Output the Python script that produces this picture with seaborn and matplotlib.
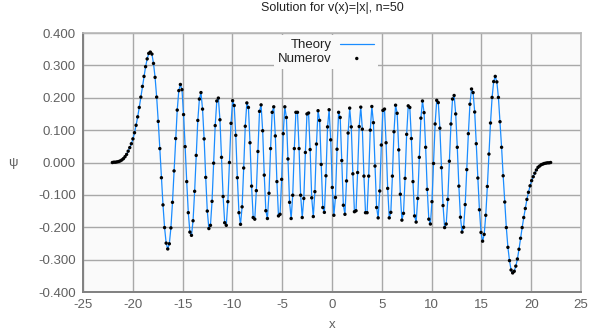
import numpy as np
import pandas as pd
import matplotlib
matplotlib.use("Agg")
import matplotlib.pyplot as plt
import seaborn as sns
from matplotlib.ticker import FormatStrFormatter

# ---- data ----
title = "Solution for v(x)=|x|, n=50"
x_first, x_last, n_points = -22.05, 21.95, 278   # uniform Numerov grid

psi = [
    0.000, 0.001, 0.001, 0.002, 0.003, 0.005, 0.008, 0.012, 0.018, 0.025,
    0.035, 0.046, 0.058, 0.073, 0.092, 0.115, 0.141, 0.170, 0.202, 0.235,
    0.266, 0.296, 0.320, 0.337, 0.341, 0.335, 0.306, 0.263, 0.202, 0.127,
    0.043, -0.047, -0.131, -0.201, -0.249, -0.267, -0.251, -0.202, -0.123, -0.026,
    0.074, 0.162, 0.222, 0.241, 0.225, 0.148, 0.049, -0.059, -0.155, -0.215,
    -0.225, -0.180, -0.089, 0.022, 0.130, 0.196, 0.216, 0.165, 0.073, -0.046,
    -0.150, -0.204, -0.194, -0.120, -0.002, 0.114, 0.190, 0.199, 0.132, 0.016,
    -0.105, -0.186, -0.194, -0.121, 0.000, 0.121, 0.191, 0.176, 0.084, -0.047,
    -0.155, -0.191, -0.137, -0.017, 0.112, 0.184, 0.170, 0.061, -0.073, -0.170,
    -0.175, -0.087, 0.034, 0.158, 0.178, 0.098, -0.039, -0.149, -0.173, -0.095,
    0.043, 0.155, 0.172, 0.082, -0.059, -0.165, -0.160, -0.052, 0.089, 0.172,
    0.139, 0.011, -0.123, -0.173, -0.101, 0.043, 0.155, 0.155, 0.043, -0.101,
    -0.170, -0.111, 0.031, 0.150, 0.153, 0.040, -0.109, -0.167, -0.090, 0.057,
    0.160, 0.130, -0.006, -0.139, -0.154, -0.041, 0.110, 0.163, 0.070, -0.077,
    -0.163, -0.108, 0.041, 0.155, 0.139, 0.006, -0.132, -0.160, -0.057, 0.091,
    0.168, 0.110, -0.035, -0.152, -0.149, -0.031, 0.111, 0.171, 0.103, -0.042,
    -0.155, -0.155, -0.042, 0.100, 0.173, 0.123, -0.011, -0.139, -0.171, -0.088,
    0.054, 0.161, 0.165, 0.061, -0.080, -0.171, -0.154, -0.042, 0.095, 0.177,
    0.152, 0.039, -0.098, -0.178, -0.157, -0.049, 0.087, 0.175, 0.170, 0.074,
    -0.059, -0.165, -0.184, -0.111, 0.016, 0.137, 0.190, 0.154, 0.047, -0.083,
    -0.175, -0.190, -0.121, -0.003, 0.119, 0.192, 0.185, 0.106, -0.016, -0.133,
    -0.201, -0.190, -0.114, 0.004, 0.119, 0.196, 0.207, 0.150, 0.047, -0.073,
    -0.169, -0.215, -0.200, -0.130, -0.022, 0.089, 0.180, 0.227, 0.216, 0.156,
    0.058, -0.048, -0.146, -0.216, -0.243, -0.222, -0.163, -0.074, 0.026, 0.122,
    0.201, 0.250, 0.266, 0.249, 0.201, 0.126, 0.047, -0.041, -0.122, -0.201,
    -0.262, -0.303, -0.332, -0.341, -0.336, -0.320, -0.298, -0.268, -0.234, -0.201,
    -0.170, -0.142, -0.114, -0.092, -0.072, -0.056, -0.044, -0.033, -0.023, -0.015,
    -0.011, -0.007, -0.005, -0.003, -0.002, -0.001, -0.001, 0.000,
]

x_ticks = [-25, -20, -15, -10, -5, 0, 5, 10, 15, 20, 25]
y_ticks = [-0.4, -0.3, -0.2, -0.1, 0.0, 0.1, 0.2, 0.3, 0.4]

x_grid = np.linspace(x_first, x_last, n_points)
df = pd.DataFrame({"x": x_grid, "psi": psi})

# ---- style ----
sns.set_theme(style="white")
plt.rcParams["font.family"] = ["Liberation Sans", "DejaVu Sans"]
plt.rcParams["axes.unicode_minus"] = False

fig = plt.figure(figsize=(5.91, 3.31), dpi=100)
fig.patch.set_facecolor("white")
ax = fig.add_axes([0.1404, 0.1178, 0.8427, 0.7825])
ax.set_facecolor("#fafafa")

sns.lineplot(data=df, x="x", y="psi", sort=False, color="#1a8cff",
             linewidth=0.9, ax=ax, label="Theory", zorder=3)
sns.scatterplot(data=df, x="x", y="psi", color="black", s=6,
                edgecolor="none", ax=ax, label="Numerov", zorder=4)

ax.set_xlim(-25, 25)
ax.set_ylim(-0.4, 0.4)
ax.set_xticks(x_ticks)
ax.set_yticks(y_ticks)
ax.yaxis.set_major_formatter(FormatStrFormatter("%.3f"))
ax.grid(True, color="#a8a8a8", linewidth=1.0)
ax.set_axisbelow(True)
ax.tick_params(axis="both", length=0, labelsize=9.5, colors="#606060", pad=5)

for side in ["left", "bottom"]:
    ax.spines[side].set_color("#808080")
    ax.spines[side].set_linewidth(1.4)
for side in ["top", "right"]:
    ax.spines[side].set_color("#b8b8b8")
    ax.spines[side].set_linewidth(1.2)

ax.set_xlabel("x", fontsize=9.5, color="#606060", labelpad=6)
ax.set_ylabel("ψ", fontsize=9.5, color="#606060", rotation=0, labelpad=18,
              va="center")
ax.set_title(title, fontsize=9, color="#222222", pad=16)

leg = ax.legend(loc="upper center", bbox_to_anchor=(0.488, 1.018),
                markerfirst=False, frameon=True, fontsize=9.5,
                handlelength=2.6, handletextpad=0.6, labelspacing=0.12,
                borderpad=0.3)
leg.get_frame().set_facecolor("#fafafa")
leg.get_frame().set_edgecolor("none")
leg.get_frame().set_alpha(1.0)
for t in leg.get_texts():
    t.set_color("#222222")

fig.savefig("out.png", dpi=100)
